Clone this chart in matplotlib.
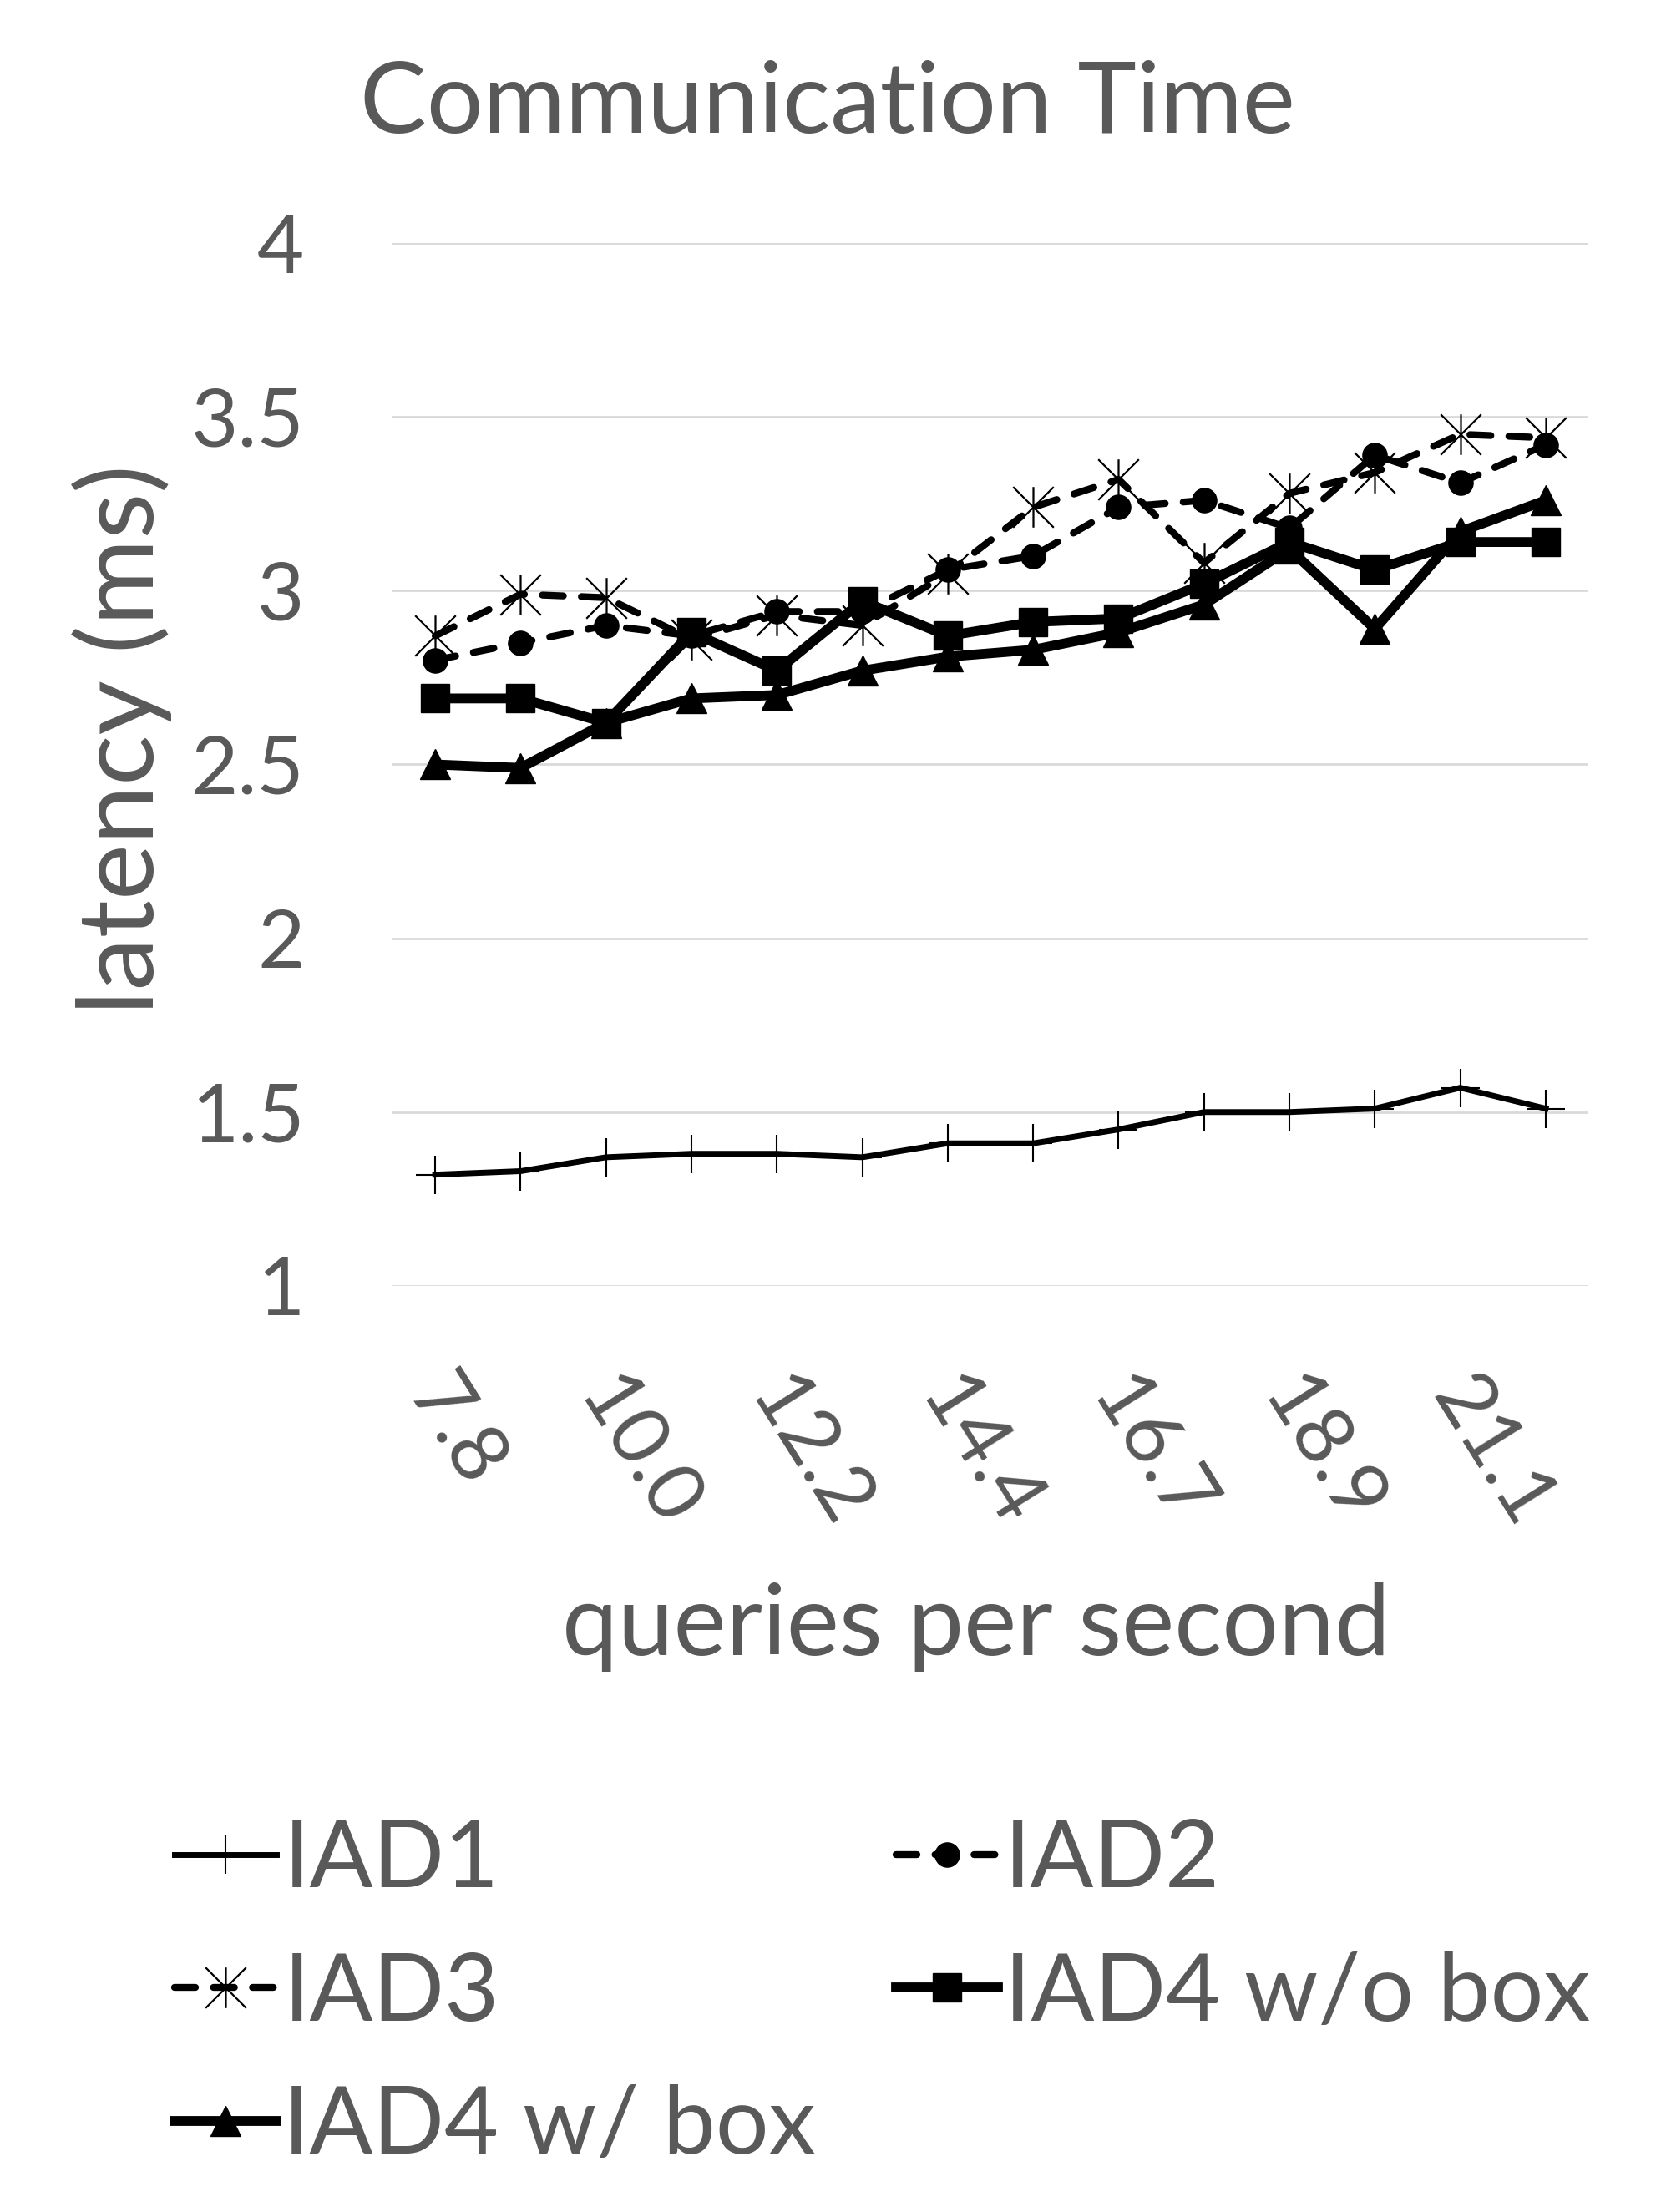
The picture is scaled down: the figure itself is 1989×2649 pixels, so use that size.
import numpy as np
import matplotlib
matplotlib.use("Agg")
import matplotlib.pyplot as plt
from matplotlib.path import Path
from matplotlib.transforms import ScaledTranslation

plt.rcParams['font.family'] = ['Lato', 'DejaVu Sans']

# queries per second (only every other one is labelled on the axis)
qps = ['7.8', '8.9', '10.0', '11.1', '12.2', '13.3', '14.4',
       '15.6', '16.7', '17.8', '18.9', '20.0', '21.1', '22.2']

# latency (ms)
iad1 = [1.32, 1.33, 1.37, 1.38, 1.38, 1.37, 1.41, 1.41, 1.45, 1.50, 1.50, 1.51, 1.57, 1.51]
iad2 = [2.80, 2.85, 2.90, 2.87, 2.94, 2.94, 3.06, 3.10, 3.24, 3.26, 3.18, 3.39, 3.31, 3.42]
iad3 = [2.87, 2.99, 2.98, 2.86, 2.93, 2.90, 3.05, 3.24, 3.32, 3.08, 3.28, 3.34, 3.45, 3.44]
iad4_nobox = [2.69, 2.69, 2.62, 2.88, 2.77, 2.97, 2.87, 2.91, 2.92, 3.02, 3.14, 3.06, 3.14, 3.14]
iad4_box = [2.50, 2.49, 2.62, 2.69, 2.70, 2.77, 2.81, 2.83, 2.88, 2.96, 3.12, 2.89, 3.17, 3.26]

names = ['IAD1', 'IAD2', 'IAD3', 'IAD4 w/o box', 'IAD4 w/ box']
yticks = [1, 1.5, 2, 2.5, 3, 3.5, 4]

grey = '#595959'

# excel style asterisk marker: vertical bar plus an X
star = Path([(0, -1), (0, 1), (-1, -1), (1, 1), (-1, 1), (1, -1)],
            [Path.MOVETO, Path.LINETO] * 3)

fig = plt.figure(figsize=(19.89, 26.49), dpi=100)
ax = fig.add_axes([0.2363, 0.4187, 0.72, 0.4714])

x = np.arange(len(qps))
dash = (3, 2.6)

l1, = ax.plot(x, iad1, color='black', lw=5, marker='+', ms=33, mew=1.5,
              solid_joinstyle='round')
l2, = ax.plot(x, iad2, color='black', lw=6, ls=(0, dash), dash_capstyle='round',
              marker='o', ms=22, mew=0)
l3, = ax.plot(x, iad3, color='black', lw=6, ls=(0, dash), dash_capstyle='round',
              marker=star, ms=35, mew=1.6, mfc='none')
l4, = ax.plot(x, iad4_nobox, color='black', lw=8.5, marker='s', ms=25, mew=1,
              solid_joinstyle='round')
l5, = ax.plot(x, iad4_box, color='black', lw=8.5, marker='^', ms=26, mew=1,
              solid_joinstyle='round')

ax.set_xlim(-0.5, len(qps) - 0.5)
ax.set_ylim(1, 4)
ax.set_yticks(yticks)
ax.set_yticklabels(['1', '1.5', '2', '2.5', '3', '3.5', '4'])
ax.grid(axis='y', color='#d9d9d9', lw=2)
ax.set_axisbelow(True)
for s in ax.spines.values():
    s.set_visible(False)
ax.tick_params(axis='y', length=0, pad=76, labelsize=70, labelcolor=grey)
ax.tick_params(axis='x', length=0, pad=68, labelsize=70, labelcolor=grey)

ax.set_xticks(x)
ax.set_xticklabels([q if i % 2 == 0 else '' for i, q in enumerate(qps)])
for lab in ax.get_xticklabels():
    lab.set_rotation(-58)
    lab.set_rotation_mode('anchor')
    lab.set_ha('left')
    lab.set_va('top')
    lab.set_transform(lab.get_transform() + ScaledTranslation(0.24, 0, fig.dpi_scale_trans))

ax.set_xlabel('queries per second', fontsize=86, color=grey, va='baseline')
ax.xaxis.set_label_coords(0.488, -0.354)
ax.set_ylabel('latency (ms)', fontsize=91, color=grey, va='center')
ax.yaxis.set_label_coords(-0.226, 0.524)

fig.text(0.498, 0.94, 'Communication Time', fontsize=86, color=grey,
         ha='center', va='baseline')

# legend filled row by row like the original
handles = [l1, l3, l5, l2, l4]
labels = [names[0], names[2], names[4], names[1], names[3]]
fig.legend(handles, labels, loc='upper left', bbox_to_anchor=(0.105, 0.178),
           ncol=2, frameon=False, fontsize=81, labelcolor=grey,
           borderpad=0, borderaxespad=0, handlelength=1.09, handletextpad=0.07,
           columnspacing=0.85, labelspacing=0.51, numpoints=1)

fig.savefig('out.png', dpi=100)
